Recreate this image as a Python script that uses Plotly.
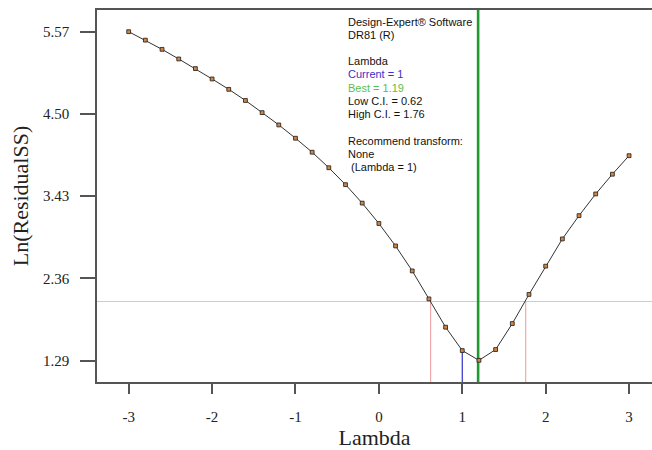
import plotly.graph_objects as go

# ---- data ----
lam = [-3.0, -2.8, -2.6, -2.4, -2.2, -2.0, -1.8, -1.6, -1.4, -1.2, -1.0,
       -0.8, -0.6, -0.4, -0.2, 0.0, 0.2, 0.4, 0.6, 0.8, 1.0,
       1.2, 1.4, 1.6, 1.8, 2.0, 2.2, 2.4, 2.6, 2.8, 3.0]
ln_rss = [5.57, 5.46, 5.34, 5.215, 5.09, 4.955, 4.82, 4.675, 4.517, 4.357, 4.184,
          4.002, 3.80, 3.58, 3.34, 3.075, 2.783, 2.458, 2.094, 1.726, 1.422,
          1.295, 1.435, 1.773, 2.152, 2.52, 2.874, 3.177, 3.459, 3.716, 3.957]
y_ticks = [1.29, 2.36, 3.43, 4.50, 5.57]
x_ticks = [-3, -2, -1, 0, 1, 2, 3]
ci_level = 2.06
current_lambda = 1.0
current_value = 1.422
best_lambda = 1.19
low_ci = 0.62
high_ci = 1.76
info_lines = [
    ("Design-Expert® Software", "#111111"),
    ("DR81 (R)", "#111111"),
    ("", "#111111"),
    ("Lambda", "#111111"),
    ("Current = 1", "#3a32c8"),
    ("Best = 1.19", "#5cbf4a"),
    ("Low C.I. = 0.62", "#111111"),
    ("High C.I. = 1.76", "#111111"),
    ("", "#111111"),
    ("Recommend transform:", "#111111"),
    ("None", "#111111"),
    ("\u00a0(Lambda = 1)", "#111111"),
]

x_range = [-3.38, 3.275]
y_range = [1.013, 5.852]

fig = go.Figure()

# CI threshold horizontal line
fig.add_trace(go.Scatter(x=x_range, y=[ci_level, ci_level], mode="lines",
                         line=dict(color="#cccccc", width=1.2), hoverinfo="skip"))
# CI vertical lines
for v in (low_ci, high_ci):
    fig.add_trace(go.Scatter(x=[v, v], y=[y_range[0], ci_level], mode="lines",
                             line=dict(color="#f2a8a8", width=1.2), hoverinfo="skip"))
# current lambda
fig.add_trace(go.Scatter(x=[current_lambda, current_lambda], y=[y_range[0], current_value],
                         mode="lines", line=dict(color="#3030c8", width=1.2), hoverinfo="skip"))
# best lambda
fig.add_trace(go.Scatter(x=[best_lambda, best_lambda], y=y_range, mode="lines",
                         line=dict(color="#1f9a2e", width=2.6), hoverinfo="skip"))
# curve
fig.add_trace(go.Scatter(x=lam, y=ln_rss, mode="lines+markers",
                         line=dict(color="#333333", width=1),
                         marker=dict(symbol="square", size=3.8, color="#d8843c",
                                     line=dict(color="#2a2a2a", width=0.9))))

# info text
x0_px = 346
top_px = 21.7
step_px = 13.2
plot_h = 372
plot_top = 10
for i, (txt, col) in enumerate(info_lines):
    if not txt:
        continue
    ypx = top_px + i * step_px
    fig.add_annotation(text=txt, xref="paper", yref="paper",
                       x=(x0_px - 97) / 555, y=1 - (ypx - plot_top) / plot_h,
                       xanchor="left", yanchor="middle", showarrow=False,
                       font=dict(family="Liberation Sans, Arial", size=11, color=col))

axis_col = "#555555"
fig.update_layout(
    width=652, height=450,
    margin=dict(l=97, r=0, t=10, b=68),
    paper_bgcolor="white", plot_bgcolor="white",
    showlegend=False,
    font=dict(family="Liberation Serif, Times New Roman", color="#222222"),
    xaxis=dict(range=x_range, tickvals=x_ticks, ticktext=[str(v) for v in x_ticks],
               showgrid=False, zeroline=False, showline=True, mirror=True,
               linecolor=axis_col, linewidth=1.5,
               ticks="outside", ticklen=10, tickwidth=1.5, tickcolor=axis_col,
               ticklabelstandoff=10,
               tickfont=dict(size=15),
               title=dict(text="Lambda", font=dict(size=22), standoff=10)),
    yaxis=dict(range=y_range, tickvals=y_ticks, ticktext=["%.2f" % v for v in y_ticks],
               showgrid=False, zeroline=False, showline=True, mirror=False,
               linecolor=axis_col, linewidth=1.5,
               ticks="outside", ticklen=15, tickwidth=1.5, tickcolor=axis_col,
               ticklabelstandoff=8,
               tickfont=dict(size=15),
               title=dict(text="Ln(ResidualSS)", font=dict(size=22), standoff=8)),
)

fig.write_html("out.html")
